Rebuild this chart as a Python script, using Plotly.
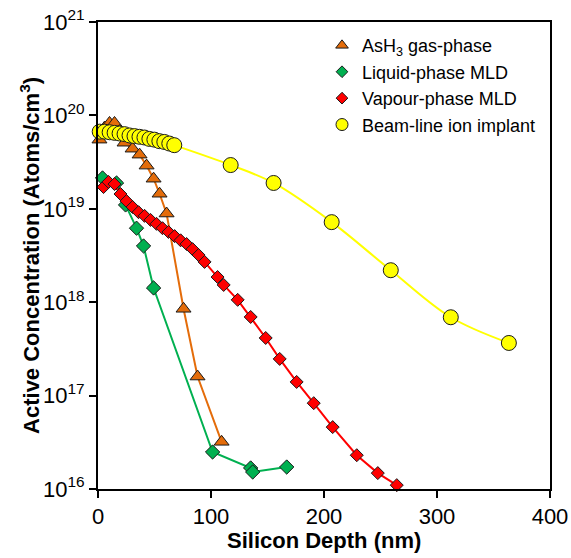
import plotly.graph_objects as go

# AsH3 gas-phase (orange triangles)
ash3_x = [1.3, 5.8, 10.2, 14.6, 19.0, 23.5, 30.6, 36.8, 43.0, 49.2, 54.5, 60.7, 75.7, 88.1, 109.4]
ash3_y = [5.5e19, 7.4e19, 8.3e19, 8.3e19, 6.8e19, 5.1e19, 4.4e19, 3.8e19, 2.9e19, 2.1e19, 1.45e19, 8.9e18, 8.5e17, 1.6e17, 3.2e16]

# Liquid-phase MLD (green diamonds)
liq_x = [4.0, 16.4, 24.4, 34.1, 40.3, 49.2, 101.4, 135.1, 136.9, 167.0]
liq_y = [2.14e19, 1.89e19, 1.1e19, 6.2e18, 4.0e18, 1.42e18, 2.49e16, 1.68e16, 1.52e16, 1.72e16]

# Vapour-phase MLD (red diamonds)
vap_x = [4.9, 9.3, 14.6, 19.9, 25.2, 30.6, 35.9, 41.2, 46.5, 51.8, 57.1, 62.4, 67.8, 73.1, 78.4,
         83.7, 89.0, 94.3, 105.8, 111.2, 123.6, 135.1, 148.4, 160.8, 175.8, 190.9, 207.7, 229.0, 247.6, 264.4]
vap_y = [1.71e19, 1.94e19, 1.84e19, 1.44e19, 1.21e19, 1.045e19, 9.2e18, 8.4e18, 7.6e18, 6.9e18,
         6.2e18, 5.65e18, 5.1e18, 4.6e18, 4.2e18, 3.7e18, 3.2e18, 2.7e18, 1.86e18, 1.53e18,
         1.06e18, 6.95e17, 4.14e17, 2.47e17, 1.40e17, 8.3e16, 4.6e16, 2.3e16, 1.48e16, 1.10e16]

# Beam-line ion implant (yellow circles)
beam_x = [1.5, 5.9, 10.3, 14.7, 19.1, 23.5, 27.9, 32.3, 36.7, 41.1, 45.5, 49.9, 54.3, 58.7, 63.1, 67.5,
          117.4, 155.4, 206.8, 259.1, 312.2, 363.6]
beam_y = [6.7e19, 6.7e19, 6.6e19, 6.5e19, 6.4e19, 6.3e19, 6.1e19, 6.0e19, 5.9e19, 5.8e19, 5.6e19,
          5.5e19, 5.3e19, 5.2e19, 5.0e19, 4.8e19, 2.94e19, 1.89e19, 7.2e18, 2.2e18, 6.9e17, 3.66e17]

series_names = ["AsH<sub>3</sub> gas-phase", "Liquid-phase MLD", "Vapour-phase MLD", "Beam-line ion implant"]
y_tickvals = [1e16, 1e17, 1e18, 1e19, 1e20, 1e21]
y_ticktext = ["10<sup>16</sup>", "10<sup>17</sup>", "10<sup>18</sup>", "10<sup>19</sup>", "10<sup>20</sup>", "10<sup>21</sup>"]
x_tickvals = [0, 100, 200, 300, 400]

ORANGE = "#E46C0A"
GREEN = "#00B050"
RED = "#FF0000"
YELLOW = "#FFFF00"
EDGE = "#1a1a1a"

fig = go.Figure()

def add(x, y, color, symbol, size, shape="linear"):
    fig.add_trace(go.Scatter(
        x=x, y=y, mode="lines+markers", showlegend=False, cliponaxis=False,
        line=dict(color=color, width=2, shape=shape),
        marker=dict(symbol=symbol, size=size, color=color, line=dict(color=EDGE, width=1)),
    ))

add(ash3_x, ash3_y, ORANGE, "triangle-up", 13)
add(liq_x, liq_y, GREEN, "diamond", 11)
add(vap_x, vap_y, RED, "diamond", 10)
add(beam_x, beam_y, YELLOW, "circle", 15, shape="spline")

# legend entries (marker only)
for name, color, symbol, size in [
    (series_names[0], ORANGE, "triangle-up", 11),
    (series_names[1], GREEN, "diamond", 9),
    (series_names[2], RED, "diamond", 9),
    (series_names[3], YELLOW, "circle", 12),
]:
    fig.add_trace(go.Scatter(
        x=[None], y=[None], mode="markers", name=name,
        marker=dict(symbol=symbol, size=size, color=color, line=dict(color=EDGE, width=1)),
    ))

FONT = "Liberation Sans, Arial, sans-serif"

fig.update_layout(
    width=571, height=558,
    margin=dict(l=98, r=21, t=22, b=69, autoexpand=False),
    paper_bgcolor="white", plot_bgcolor="white",
    font=dict(family=FONT, size=22, color="black"),
    showlegend=True,
    legend=dict(x=0.4956, y=0.989, xanchor="left", yanchor="top",
                font=dict(size=18, family=FONT, color="black"),
                bgcolor="rgba(0,0,0,0)", itemsizing="trace", tracegroupgap=0),
    xaxis=dict(range=[0, 400], tickvals=x_tickvals, showgrid=False, zeroline=False,
               automargin=False,
               showline=True, linecolor="black", linewidth=2, mirror=True,
               ticks="outside", ticklen=7, tickwidth=2, tickcolor="black",
               tickfont=dict(size=22, family=FONT)),
    yaxis=dict(type="log", range=[16, 21], tickvals=y_tickvals, ticktext=y_ticktext,
               showgrid=False, zeroline=False, automargin=False,
               showline=True, linecolor="black", linewidth=2, mirror=True,
               ticks="outside", ticklen=7, tickwidth=2, tickcolor="black",
               tickfont=dict(size=22, family=FONT)),
    annotations=[
        dict(text="<b>Silicon Depth (nm)</b>", xref="paper", yref="paper", x=0.5, y=-0.111,
             xanchor="center", yanchor="middle", showarrow=False,
             font=dict(size=22, family=FONT, color="black")),
        dict(text="<b>Active Concentration (Atoms/cm<sup>3</sup>)</b>", xref="paper", yref="paper",
             x=-0.1517, y=0.5, xanchor="center", yanchor="middle", textangle=-90, showarrow=False,
             font=dict(size=22, family=FONT, color="black")),
    ],
)

fig.write_html("out.html")
